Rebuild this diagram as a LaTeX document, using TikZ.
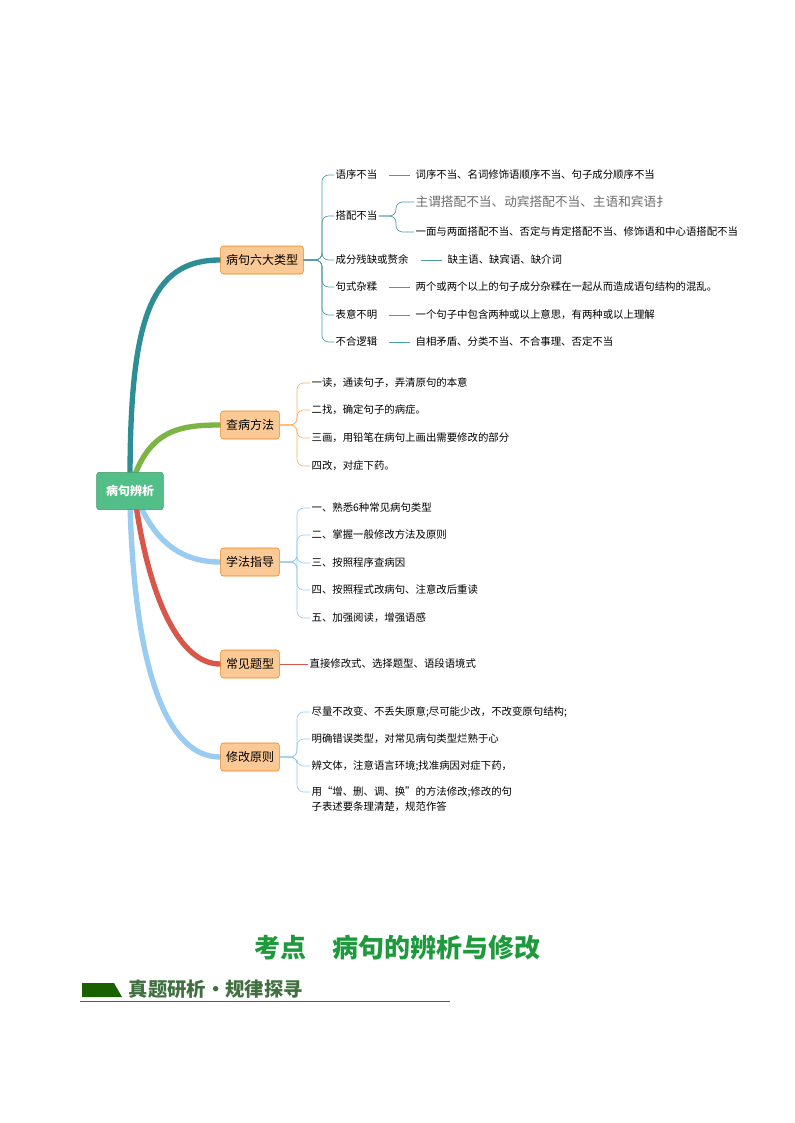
\documentclass[tikz,border=0pt]{standalone}
\usepackage{fontspec}
\setmainfont{Noto Sans CJK SC}
\begin{document}
\begin{tikzpicture}[x=0.75pt,y=-0.75pt,
  cat/.style={draw=orange!70!brown,fill=catfill,rounded corners=2pt,minimum height=21pt,inner sep=4pt,font=\fontsize{9}{10}\selectfont},
  item/.style={anchor=west,inner sep=1pt,font=\fontsize{7.8}{9.5}\selectfont},
  lk/.style={draw=#1,line width=0.5pt,rounded corners=5pt},
  br/.style={line width=4pt,line cap=round}]
\definecolor{catfill}{HTML}{FBC995}
\definecolor{teal1}{HTML}{2E8E96}
\definecolor{g2}{HTML}{7DB544}
\definecolor{b3}{HTML}{9ACBF0}
\definecolor{r4}{HTML}{D9574A}
\definecolor{tl}{HTML}{4A9CA6}
\definecolor{ttl}{HTML}{1E9A3C}
\definecolor{rootc}{HTML}{52BF88}
\useasboundingbox (0,0) rectangle (794,1123);
\fill[white] (0,0) rectangle (794,1123);
\draw[br,teal1] (130,480) .. controls (130,320) and (150,260) .. (220,260);
\draw[br,g2] (133,480) .. controls (150,430) and (180,425) .. (220,425);
\draw[br,b3] (140,505) .. controls (160,550) and (190,562) .. (220,562);
\draw[br,r4] (136,505) .. controls (150,600) and (180,664) .. (220,664);
\draw[br,b3] (130,505) .. controls (135,680) and (170,757) .. (220,757);
\node[fill=rootc,draw=rootc!80!black,rounded corners=2pt,text=white,minimum width=50pt,minimum height=28pt,font=\fontsize{9}{10}\selectfont\bfseries] (root) at (130,491) {病句辨析};
\node[cat] (c1) at (262,260) {病句六大类型};
\node[cat] (c2) at (250,425) {查病方法};
\node[cat] (c3) at (250,562) {学法指导};
\node[cat] (c4) at (250,664) {常见题型};
\node[cat] (c5) at (250,757) {修改原则};
\foreach \n/\y/\t in {a/175/语序不当,b/216/搭配不当,c/260/成分残缺或赘余,d/287/句式杂糅,e/315/表意不明,f/342/不合逻辑}
  {\node[item] (t\n) at (334,\y) {\t};
   \draw[lk=tl] (c1.east) -- (322,260) |- (t\n.west);}
\node[item] (la) at (414,175) {词序不当、名词修饰语顺序不当、句子成分顺序不当};
\node[item] (lc) at (446,260) {缺主语、缺宾语、缺介词};
\node[item] (ld) at (414,287) {两个或两个以上的句子成分杂糅在一起从而造成语句结构的混乱。};
\node[item] (le) at (414,315) {一个句子中包含两种或以上意思，有两种或以上理解};
\node[item] (lf) at (414,342) {自相矛盾、分类不当、不合事理、否定不当};
\foreach \a/\b in {ta/la,tc/lc,td/ld,te/le,tf/lf} \draw[tl,line width=0.5pt] ([xshift=8pt]\a.east) -- ([xshift=-3pt]\b.west);
\node[item,text=gray!85!black,font=\fontsize{9.5}{10}\selectfont] (lb1) at (414,202) {主谓搭配不当、动宾搭配不当、主语和宾语扌};
\node[item] (lb2) at (414,232) {一面与两面搭配不当、否定与肯定搭配不当、修饰语和中心语搭配不当};
\foreach \l in {lb1,lb2} \draw[lk=tl] (tb.east) -- (396,216) |- (\l.west);
\foreach \n/\y/\t in {1/383/一读，通读句子，弄清原句的本意,2/410/二找，确定句子的病症。,3/438/三画，用铅笔在病句上画出需要修改的部分,4/466/四改，对症下药。}
  {\node[item] (m\n) at (310,\y) {\t};
   \draw[lk=orange!60] (c2.east) -- (297,425) |- (m\n.west);}
\foreach \n/\y/\t in {1/508/一、熟悉6种常见病句类型,2/535/二、掌握一般修改方法及原则,3/563/三、按照程序查病因,4/590/四、按照程式改病句、注意改后重读,5/618/五、加强阅读，增强语感}
  {\node[item] (s\n) at (310,\y) {\t};
   \draw[lk=b3] (c3.east) -- (297,562) |- (s\n.west);}
\node[item] (q1) at (308,664) {直接修改式、选择题型、语段语境式};
\draw[r4,line width=0.5pt] (c4.east) -- (q1.west);
\foreach \n/\y/\t in {1/712/尽量不改变、不丢失原意;尽可能少改，不改变原句结构;,2/739/明确错误类型，对常见病句类型烂熟于心,3/766/辨文体，注意语言环境;找准病因对症下药，,4/792/用“增、删、调、换”的方法修改;修改的句}
  {\node[item] (x\n) at (310,\y) {\t};
   \draw[lk=b3] (c5.east) -- (297,757) |- (x\n.west);}
\node[item] (x5) at (310,807) {子表述要条理清楚，规范作答};
\node[font=\fontsize{19.5}{21}\selectfont\bfseries,text=ttl] (title) at (397,948) {考点\quad 病句的辨析与修改};
\fill[green!35!black!80!olive] (82,983) -- (114,983) -- (122,997) -- (82,997) -- cycle;
\node[anchor=west,font=\fontsize{14.5}{16}\selectfont\bfseries,text=green!25!black!75] (hdr) at (124,989) {真题研析·规律探寻};
\draw[olive!60!black,line width=0.6pt] (80,1001) -- (450,1001);
\end{tikzpicture}
\end{document}
